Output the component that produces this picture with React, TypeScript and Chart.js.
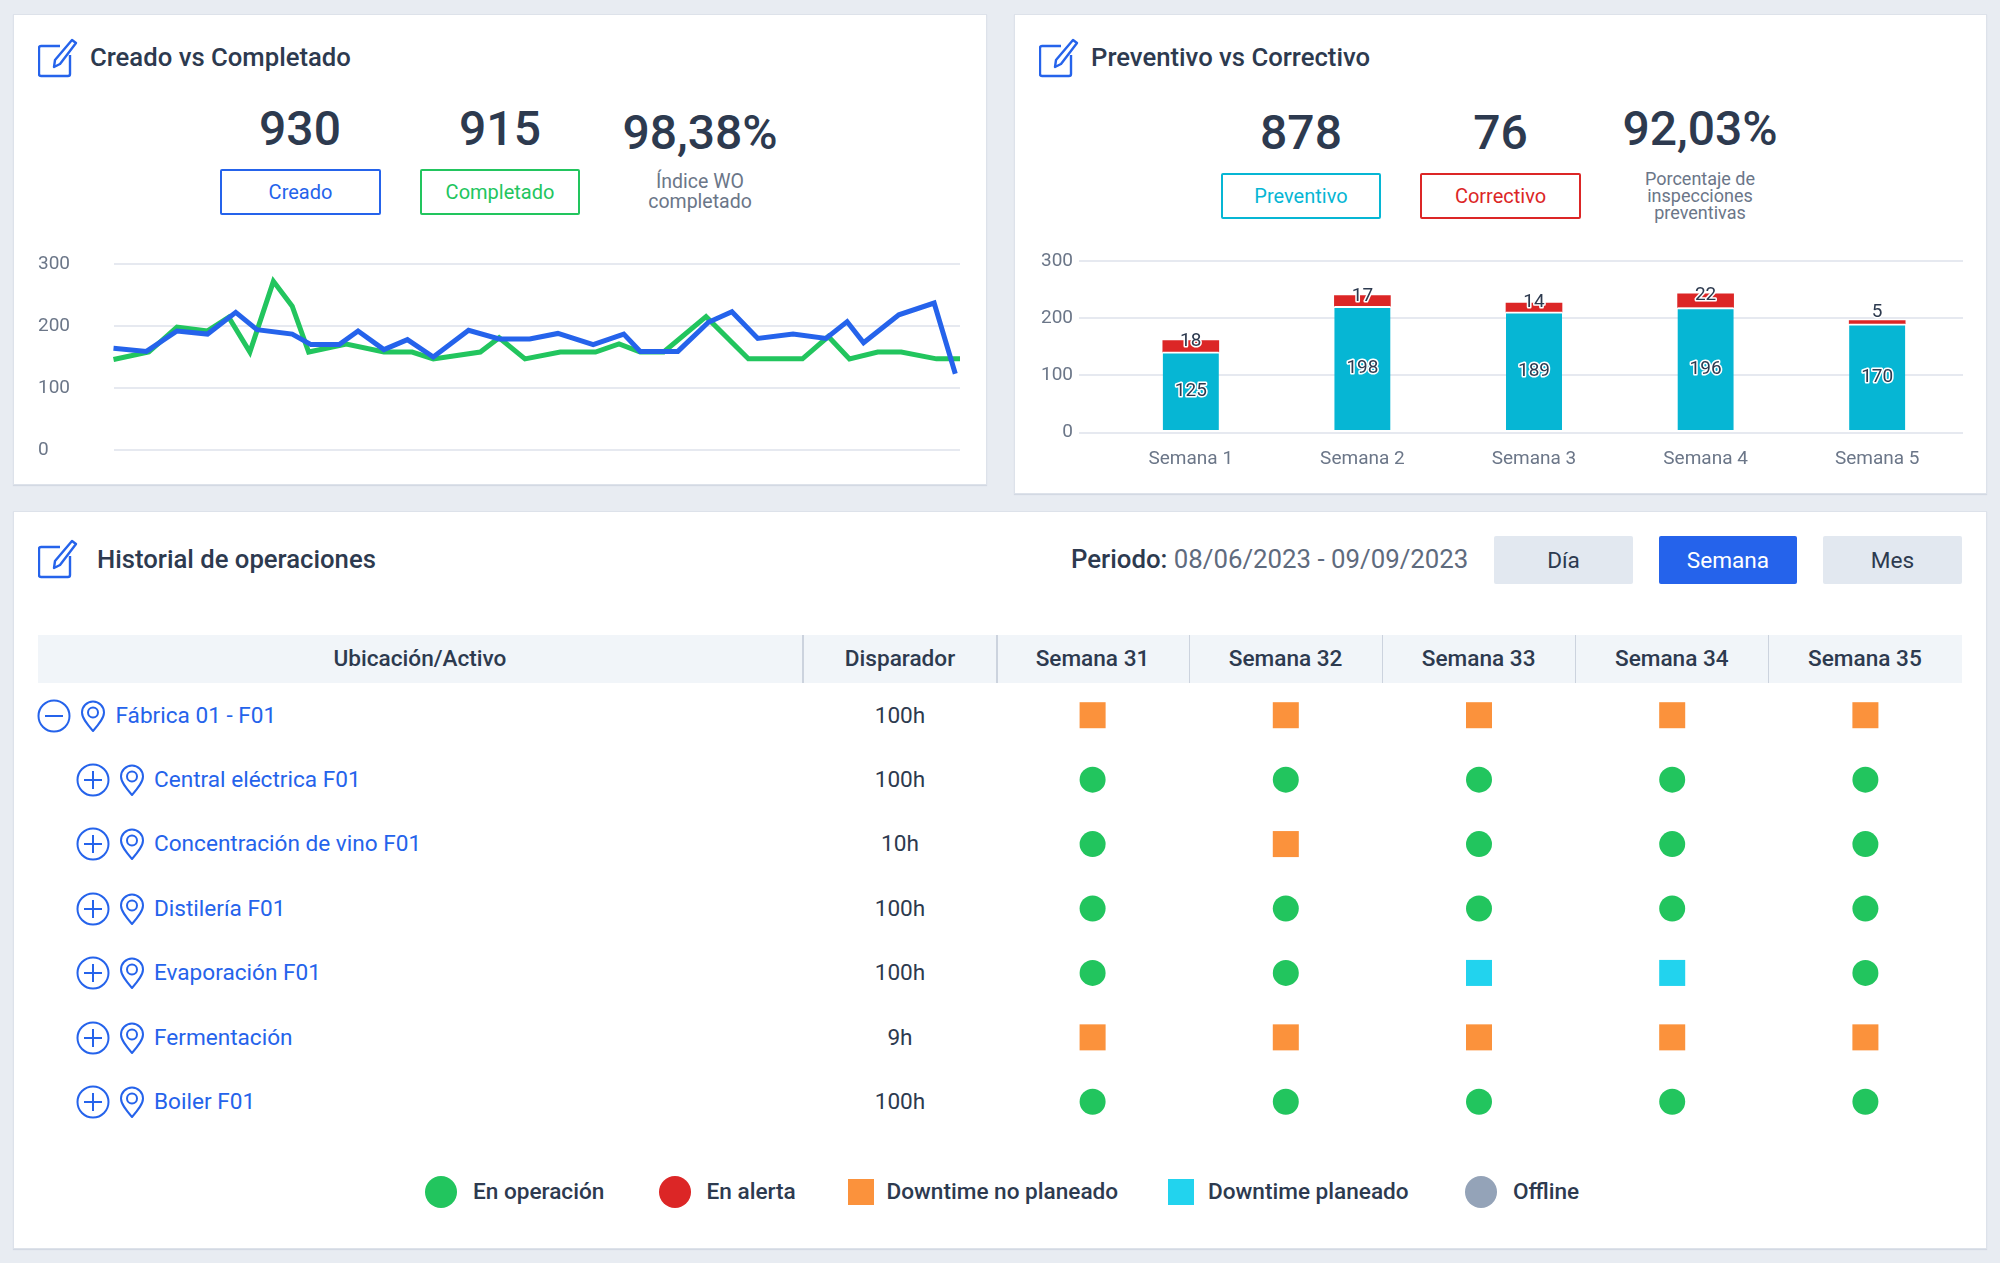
import { useEffect, useRef } from 'react'
import Chart from 'chart.js/auto'

const FONT = 'Roboto, sans-serif'
const DARK = '#2d3a4f'
const GRID = '#e6e9f0'
const TICK = '#6b7688'
const BLUE = '#2563eb'
const GREEN = '#22c55e'

// line chart, x is the position along a 36 step period (no tick labels in the source)
const createdX = [0, 1.4, 2.7, 4.0, 5.2, 6.1, 7.6, 8.4, 9.6, 10.4, 11.5, 12.5, 13.6, 15.1, 16.4, 17.7, 18.9, 20.4, 21.7, 22.4, 24.0, 25.3, 26.3, 27.4, 28.9, 30.3, 31.2, 31.9, 33.4, 34.9, 35.8]
const createdY = [164, 159, 192, 187, 222, 194, 187, 170, 170, 192, 162, 178, 150, 193, 179, 179, 188, 170, 187, 159, 159, 206, 223, 180, 187, 180, 207, 173, 218, 237, 123]
const completedX = [0, 1.5, 2.7, 4.0, 4.9, 5.8, 6.8, 7.6, 8.3, 9.9, 11.5, 12.7, 13.6, 15.6, 16.4, 17.5, 19.0, 20.5, 21.5, 22.4, 23.4, 25.2, 27.0, 29.3, 30.4, 31.3, 32.5, 33.5, 35.0, 36]
const completedY = [146, 158, 198, 192, 214, 158, 272, 232, 158, 171, 158, 158, 147, 158, 181, 147, 158, 158, 171, 158, 158, 215, 147, 147, 183, 147, 158, 158, 147, 147]

// stacked bars
const weeks = ['Semana 1', 'Semana 2', 'Semana 3', 'Semana 4', 'Semana 5']
const preventive = [125, 198, 189, 196, 170]
const corrective = [18, 17, 14, 22, 5]

// status table
const tableWeeks = ['Semana 31', 'Semana 32', 'Semana 33', 'Semana 34', 'Semana 35']
const assets = ['Fábrica 01 - F01', 'Central eléctrica F01', 'Concentración de vino F01', 'Distilería F01', 'Evaporación F01', 'Fermentación', 'Boiler F01']
const triggers = ['100h', '100h', '10h', '100h', '100h', '9h', '100h']
const statusLabels = ['En operación', 'En alerta', 'Downtime no planeado', 'Downtime planeado', 'Offline']
const statusColors = ['#22c55e', '#dc2626', '#fb923c', '#22d3ee', '#94a3b8']
const statusShapes = ['circle', 'circle', 'rect', 'rect', 'circle']
const statusRows = [
  [2, 2, 2, 2, 2],
  [0, 0, 0, 0, 0],
  [0, 2, 0, 0, 0],
  [0, 0, 0, 0, 0],
  [0, 0, 3, 3, 0],
  [2, 2, 2, 2, 2],
  [0, 0, 0, 0, 0],
]

const barLabels = {
  id: 'barLabels',
  afterDatasetsDraw(chart: any) {
    const ctx = chart.ctx
    ctx.save()
    ctx.font = `400 19px ${FONT}`
    ctx.textAlign = 'center'
    ctx.textBaseline = 'middle'
    ctx.lineJoin = 'round'
    chart.data.datasets.forEach((ds: any, d: number) => {
      chart.getDatasetMeta(d).data.forEach((bar: any, i: number) => {
        const h = bar.base - bar.y
        const y = d === 0 ? (bar.y + bar.base) / 2 : h < 6 ? bar.y - 8 : (bar.y + bar.base) / 2 - 5
        ctx.lineWidth = 3
        ctx.strokeStyle = '#fff'
        ctx.strokeText(String(ds.data[i]), bar.x, y)
        ctx.fillStyle = DARK
        ctx.fillText(String(ds.data[i]), bar.x, y)
      })
    })
    ctx.restore()
  },
}

function LineChart() {
  const ref = useRef<HTMLCanvasElement>(null)
  useEffect(() => {
    if (!ref.current) return
    const chart = new Chart(ref.current, {
      type: 'line',
      data: {
        datasets: [
          { label: 'Creado', data: createdX.map((x, i) => ({ x, y: createdY[i] })), borderColor: BLUE, borderWidth: 5, pointRadius: 0, tension: 0 },
          { label: 'Completado', data: completedX.map((x, i) => ({ x, y: completedY[i] })), borderColor: GREEN, borderWidth: 5, pointRadius: 0, tension: 0 },
        ],
      },
      options: {
        responsive: false,
        animation: false,
        clip: false,
        layout: { autoPadding: false, padding: { top: 24, bottom: 20, right: 20 } },
        plugins: { legend: { display: false }, tooltip: { enabled: false } },
        scales: {
          x: { type: 'linear', display: false, min: 0, max: 36 },
          y: {
            min: 0,
            max: 300,
            afterFit: (s: any) => { s.width = 75.5 },
            border: { display: false },
            grid: { color: GRID, lineWidth: 2, drawTicks: false },
            ticks: { stepSize: 100, crossAlign: 'far', color: TICK, font: { family: FONT, size: 19 } },
          },
        },
      },
    } as any)
    return () => { chart.destroy() }
  }, [])
  return <canvas ref={ref} width={942} height={230} style={{ position: 'absolute', left: 38, top: 240 }} />
}

function BarChart() {
  const ref = useRef<HTMLCanvasElement>(null)
  useEffect(() => {
    if (!ref.current) return
    const chart = new Chart(ref.current, {
      type: 'bar',
      data: {
        labels: weeks,
        datasets: [
          { label: 'Preventivo', data: preventive, backgroundColor: '#06b6d4', borderColor: '#fff', borderWidth: { top: 2 }, borderSkipped: false, barThickness: 56, yAxisID: 'y1' },
          { label: 'Correctivo', data: corrective, backgroundColor: '#dc2626', barThickness: 56, yAxisID: 'y1' },
        ],
      },
      plugins: [barLabels],
      options: {
        responsive: false,
        animation: false,
        layout: { autoPadding: false, padding: { top: 21, right: 17 } },
        plugins: { legend: { display: false }, tooltip: { enabled: false } },
        scales: {
          x: {
            stacked: true,
            afterFit: (s: any) => { s.height = 47.3 },
            grid: { display: false },
            border: { display: false },
            ticks: { padding: 7, color: TICK, font: { family: FONT, size: 19 } },
          },
          // printed axis, gridlines and tick labels only
          y: {
            min: 0,
            max: 300,
            afterFit: (s: any) => { s.width = 85 },
            border: { display: false },
            grid: { color: GRID, lineWidth: 2, tickLength: 26, tickColor: GRID },
            ticks: { stepSize: 100, padding: 6, color: TICK, font: { family: FONT, size: 19 } },
          },
          // the source bars are taller than their printed values against the printed
          // axis and float a little above zero, so they get a scale of their own
          y1: { display: false, stacked: true, min: -4.3, max: 270.4 },
        },
      },
    } as any)
    return () => { chart.destroy() }
  }, [])
  return <canvas ref={ref} width={960} height={240} style={{ position: 'absolute', left: 1020, top: 240 }} />
}

function StatusChart() {
  const ref = useRef<HTMLCanvasElement>(null)
  useEffect(() => {
    if (!ref.current) return
    const chart = new Chart(ref.current, {
      type: 'scatter',
      data: {
        datasets: statusLabels.map((label, s) => ({
          label,
          data: statusRows.flatMap((row, r) =>
            row.flatMap((v, w) => (v === s ? [{ x: tableWeeks[w], y: assets[r] }] : []))
          ),
          backgroundColor: statusColors[s],
          borderWidth: 0,
          pointStyle: statusShapes[s],
          pointRadius: statusShapes[s] === 'rect' ? 18.4 : 13,
        })),
      },
      options: {
        responsive: false,
        animation: false,
        layout: { autoPadding: false },
        plugins: { legend: { display: false }, tooltip: { enabled: false } },
        scales: {
          x: { type: 'category', labels: tableWeeks, offset: true, display: false },
          y: { type: 'category', labels: assets, offset: true, display: false },
        },
      },
    } as any)
    return () => { chart.destroy() }
  }, [])
  return <canvas ref={ref} width={966} height={451} style={{ position: 'absolute', left: 996, top: 683 }} />
}

function Box({ x, y, w, h, bg, border, children }: any) {
  return (
    <div style={{
      position: 'absolute', left: x, top: y, width: w, height: h, boxSizing: 'border-box',
      background: bg, border: border ? `2px solid ${border}` : undefined, borderRadius: 2,
      display: 'flex', alignItems: 'center', justifyContent: 'center',
    }}>{children}</div>
  )
}

function Text({ x, y, size = 22.6, weight = 400, color = DARK, align = 'center', children }: any) {
  const tx = align === 'center' ? '-50%' : '0'
  return (
    <div style={{
      position: 'absolute', left: x, top: y, transform: `translate(${tx}, -50%)`, whiteSpace: 'nowrap',
      fontSize: size, fontWeight: weight, color, lineHeight: 1,
    }}>{children}</div>
  )
}

function EditIcon({ x, y }: any) {
  return (
    <svg width={40} height={40} viewBox="0 0 40 40" fill="none" stroke={BLUE} strokeWidth={2.4} strokeLinejoin="round" style={{ position: 'absolute', left: x, top: y }}>
      <path d="M22 8H3a2 2 0 0 0-2 2v26a2 2 0 0 0 2 2h27a2 2 0 0 0 2-2V17" />
      <path d="M34 2l4 3-16 21-6 3 1-7z" />
    </svg>
  )
}

function PinIcon({ x, y }: any) {
  return (
    <svg width={26} height={33} viewBox="0 0 26 33" fill="none" stroke={BLUE} strokeWidth={2} style={{ position: 'absolute', left: x, top: y }}>
      <path d="M13 31C7 24 2 18 2 12.500a11 11 0 0 1 22 0C24 18 19 24 13 31z" strokeLinejoin="round" />
      <circle cx={13} cy={12.500} r={5} />
    </svg>
  )
}

function ToggleIcon({ x, y, open }: any) {
  return (
    <svg width={34} height={34} viewBox="0 0 34 34" fill="none" stroke={BLUE} strokeWidth={2} style={{ position: 'absolute', left: x, top: y }}>
      <circle cx={17} cy={17} r={15.500} />
      <path d="M8 17h18" />
      {!open && <path d="M17 8v18" />}
    </svg>
  )
}

function Card({ x, y, w, h }: any) {
  return <div style={{ position: 'absolute', left: x, top: y, width: w, height: h, boxSizing: 'border-box', background: '#fff', border: '1px solid #dde2ea', boxShadow: '0 1px 1px #d3d9e3' }} />
}

export default function App() {
  const rowY = (i: number) => 715.5 + i * 64.4
  const colDividers = [802, 996, 1188.5, 1381.5, 1574.5, 1767.5]
  const legendMark = [425, 659, 848, 1168, 1465]
  const legendText = [473, 706.5, 886.5, 1208, 1513]
  return (
    <div style={{ position: 'absolute', left: 0, top: 0, width: 2000, height: 1263, overflow: 'hidden', background: '#e8ecf2', fontFamily: FONT }}>
      <Card x={13} y={14} w={974} h={471} />
      <Card x={1014} y={14} w={973} h={480} />
      <Card x={13} y={511} w={1974} h={738} />

      <EditIcon x={38} y={38} />
      <Text x={90} y={58} size={25.7} weight={500} align="left">Creado vs Completado</Text>
      <Text x={300} y={129} size={48} weight={500}>930</Text>
      <Text x={500} y={129} size={48} weight={500}>915</Text>
      <Text x={700} y={133} size={48} weight={500}>98,38%</Text>
      <Box x={220} y={169} w={161} h={46} border={BLUE}><span style={{ color: BLUE, fontSize: 20 }}>Creado</span></Box>
      <Box x={420} y={169} w={160} h={46} border={GREEN}><span style={{ color: GREEN, fontSize: 20 }}>Completado</span></Box>
      <Text x={700} y={182} size={19.5} color={TICK}>Índice WO</Text>
      <Text x={700} y={202} size={19.5} color={TICK}>completado</Text>
      <LineChart />

      <EditIcon x={1039} y={38} />
      <Text x={1091} y={58} size={25.7} weight={500} align="left">Preventivo vs Correctivo</Text>
      <Text x={1301} y={133} size={48} weight={500}>878</Text>
      <Text x={1500.500} y={133} size={48} weight={500}>76</Text>
      <Text x={1700} y={129} size={48} weight={500}>92,03%</Text>
      <Box x={1221} y={173} w={160} h={46} border="#06b6d4"><span style={{ color: '#06b6d4', fontSize: 20 }}>Preventivo</span></Box>
      <Box x={1420} y={173} w={161} h={46} border="#dc2626"><span style={{ color: '#dc2626', fontSize: 20 }}>Correctivo</span></Box>
      <Text x={1700} y={178.500} size={18} color={TICK}>Porcentaje de</Text>
      <Text x={1700} y={195.500} size={18} color={TICK}>inspecciones</Text>
      <Text x={1700} y={213} size={18} color={TICK}>preventivas</Text>
      <BarChart />

      <EditIcon x={38} y={539} />
      <Text x={97} y={560} size={25.7} weight={500} align="left">Historial de operaciones</Text>
      <Text x={1071} y={560} size={25.8} align="left">
        <span style={{ fontWeight: 500 }}>Periodo:</span> <span style={{ color: '#5f6b7e' }}>08/06/2023 - 09/09/2023</span>
      </Text>
      <Box x={1494} y={536} w={139} h={48} bg="#e2e8f0"><span style={{ color: DARK, fontSize: 22.6 }}>Día</span></Box>
      <Box x={1659} y={536} w={138} h={48} bg={BLUE}><span style={{ color: '#fff', fontSize: 22.6 }}>Semana</span></Box>
      <Box x={1823} y={536} w={139} h={48} bg="#e2e8f0"><span style={{ color: DARK, fontSize: 22.6 }}>Mes</span></Box>

      <div style={{ position: 'absolute', left: 38, top: 635, width: 1924, height: 48, background: '#f1f5f9' }} />
      {colDividers.map(x => <div key={x} style={{ position: 'absolute', left: x, top: 635, width: 1.500, height: 48, background: '#ccd3de' }} />)}
      <Text x={420} y={659} weight={500}>Ubicación/Activo</Text>
      <Text x={900} y={659} weight={500}>Disparador</Text>
      {tableWeeks.map((w, i) => <Text key={w} x={1092.500 + i * 193.1} y={659} weight={500}>{w}</Text>)}

      {assets.map((a, i) => {
        const dx = i === 0 ? 0 : 38.500
        return (
          <div key={a}>
            <ToggleIcon x={37 + dx} y={rowY(i) - 17} open={i === 0} />
            <PinIcon x={80 + dx} y={rowY(i) - 16} />
            <Text x={115.500 + dx} y={rowY(i)} color={BLUE} align="left">{a}</Text>
            <Text x={900} y={rowY(i)}>{triggers[i]}</Text>
          </div>
        )
      })}
      <StatusChart />

      {statusLabels.map((label, s) => {
        const round = statusShapes[s] === 'circle'
        const size = round ? 32 : 26
        return (
          <div key={label}>
            <div style={{ position: 'absolute', left: legendMark[s], top: 1191.5 - size / 2, width: size, height: size, borderRadius: round ? '50%' : 0, background: statusColors[s] }} />
            <Text x={legendText[s]} y={1191.5} weight={500} align="left">{label}</Text>
          </div>
        )
      })}
    </div>
  )
}
